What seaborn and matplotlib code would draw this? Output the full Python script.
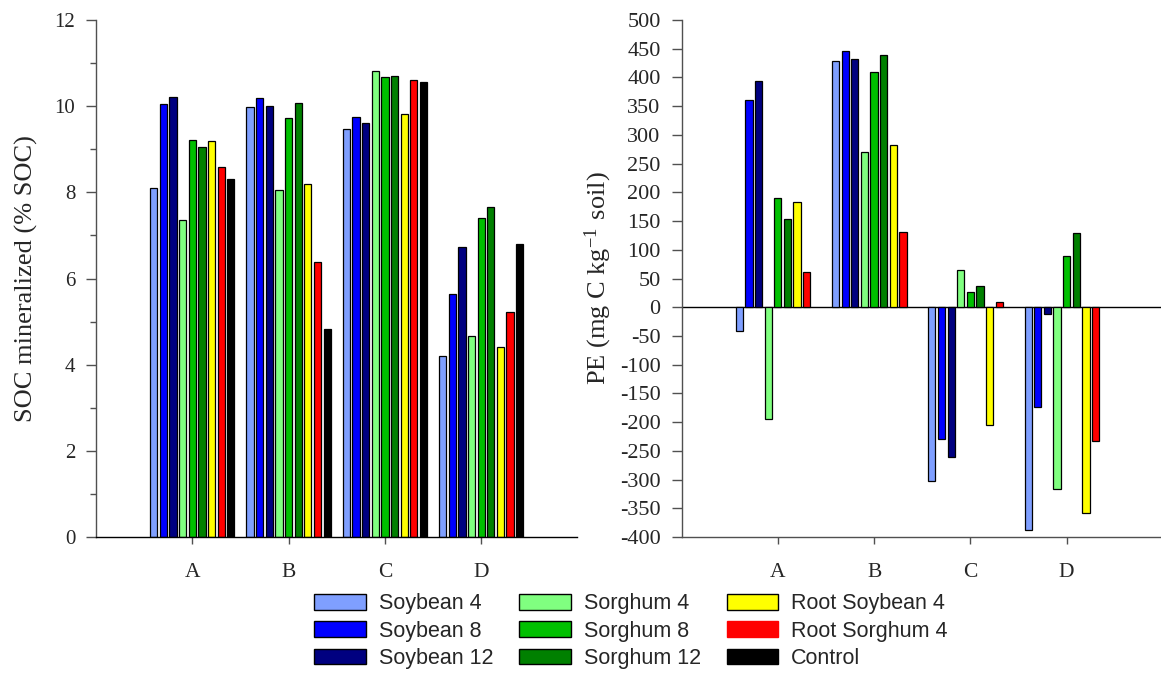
import numpy as np
import pandas as pd
import matplotlib
matplotlib.use("Agg")
import matplotlib.pyplot as plt
from matplotlib.patches import Patch
from matplotlib.ticker import MultipleLocator
import seaborn as sns

# Incubation sites
sites = ["A", "B", "C", "D"]

# Residue treatments
treatments = ["Soybean 4", "Soybean 8", "Soybean 12",
              "Sorghum 4", "Sorghum 8", "Sorghum 12",
              "Root Soybean 4", "Root Sorghum 4", "Control"]

colors = ["#7f9fff", "#0000ff", "#000080",
          "#80ff80", "#00c000", "#008000",
          "#ffff00", "#ff0000", "#000000"]

# SOC mineralized (% SOC), one list per treatment across sites A-D
soc_soybean4 = [8.10, 9.98, 9.47, 4.20]
soc_soybean8 = [10.05, 10.18, 9.74, 5.64]
soc_soybean12 = [10.22, 10.01, 9.62, 6.73]
soc_sorghum4 = [7.36, 8.05, 10.81, 4.67]
soc_sorghum8 = [9.22, 9.73, 10.68, 7.41]
soc_sorghum12 = [9.05, 10.08, 10.71, 7.66]
soc_root_soybean4 = [9.19, 8.20, 9.83, 4.40]
soc_root_sorghum4 = [8.60, 6.39, 10.62, 5.23]
soc_control = [8.31, 4.83, 10.57, 6.80]

# Priming effect (mg C kg-1 soil); no priming effect for the control
pe_soybean4 = [-42, 429, -303, -388]
pe_soybean8 = [361, 446, -230, -174]
pe_soybean12 = [394, 433, -261, -11]
pe_sorghum4 = [-194, 270, 65, -317]
pe_sorghum8 = [190, 409, 27, 90]
pe_sorghum12 = [154, 439, 37, 129]
pe_root_soybean4 = [184, 282, -205, -359]
pe_root_sorghum4 = [61, 131, 10, -233]
pe_control = [np.nan, np.nan, np.nan, np.nan]

soc_series = [soc_soybean4, soc_soybean8, soc_soybean12, soc_sorghum4,
              soc_sorghum8, soc_sorghum12, soc_root_soybean4,
              soc_root_sorghum4, soc_control]
pe_series = [pe_soybean4, pe_soybean8, pe_soybean12, pe_sorghum4,
             pe_sorghum8, pe_sorghum12, pe_root_soybean4,
             pe_root_sorghum4, pe_control]


def long_frame(series):
    rows = []
    for name, vals in zip(treatments, series):
        for site, v in zip(sites, vals):
            rows.append({"site": site, "treatment": name, "value": v})
    return pd.DataFrame(rows)


soc_df = long_frame(soc_series)
pe_df = long_frame(pe_series)

sns.set_theme(style="white")
plt.rcParams["font.family"] = ["Liberation Serif", "DejaVu Serif"]
plt.rcParams["mathtext.fontset"] = "custom"
plt.rcParams["mathtext.rm"] = "Liberation Serif"
plt.rcParams["mathtext.it"] = "Liberation Serif:italic"
plt.rcParams["axes.unicode_minus"] = False

fig = plt.figure(figsize=(11.61, 6.75), dpi=100)
ax1 = fig.add_axes([0.0827, 0.2044, 0.4147, 0.7659])
ax2 = fig.add_axes([0.587, 0.2044, 0.4147, 0.7659])

palette = dict(zip(treatments, colors))
bar_kw = dict(x="site", y="value", hue="treatment", order=sites,
              hue_order=treatments, palette=palette, width=0.9, gap=0.25,
              edgecolor="black", linewidth=0.9, saturation=1, legend=False,
              errorbar=None)

sns.barplot(data=soc_df, ax=ax1, **bar_kw)
sns.barplot(data=pe_df, ax=ax2, **bar_kw)

spine_col = "#505050"

for ax, fs in ((ax1, 15), (ax2, 16)):
    ax.set_xlim(-1, 4)
    ax.set_xlabel("")
    ax.spines["top"].set_visible(False)
    ax.spines["right"].set_visible(False)
    for s in ("left", "bottom"):
        ax.spines[s].set_color(spine_col)
        ax.spines[s].set_linewidth(1.0)
    ax.tick_params(axis="x", direction="out", length=5, width=1,
                   color=spine_col, pad=14, labelsize=15.5, bottom=True)
    ax.tick_params(axis="y", which="major", direction="out", length=7,
                   width=1, color=spine_col, pad=8, labelsize=fs,
                   left=True)

ax1.set_ylim(0, 12)
ax1.yaxis.set_major_locator(MultipleLocator(2))
ax1.yaxis.set_minor_locator(MultipleLocator(1))
ax1.tick_params(axis="y", which="minor", direction="out", length=4.3,
                width=1, color=spine_col, left=True)
ax1.spines["bottom"].set_color("black")
ax1.set_ylabel("SOC mineralized (% SOC)", fontsize=19, labelpad=12)

ax2.set_ylim(-400, 500)
ax2.yaxis.set_major_locator(MultipleLocator(50))
ax2.axhline(0, color="black", linewidth=1.0, zorder=0.5)
ax2.set_ylabel(r"PE (mg C kg$^{-1}\;\,$soil)", fontsize=19, labelpad=4)

handles = []
for name, col in zip(treatments, colors):
    edge = col if name == "Root Sorghum 4" else "black"
    handles.append(Patch(facecolor=col, edgecolor=edge, linewidth=1.0,
                         label=name))

fig.legend(handles=handles, loc="center", bbox_to_anchor=(0.5435, 0.065),
           ncol=3, frameon=False, prop={"family": "Liberation Sans", "size": 15.5},
           handlelength=2.4, handleheight=0.75, handletextpad=0.6,
           columnspacing=1.2, labelspacing=0.3)

fig.savefig("out.png", dpi=100)
